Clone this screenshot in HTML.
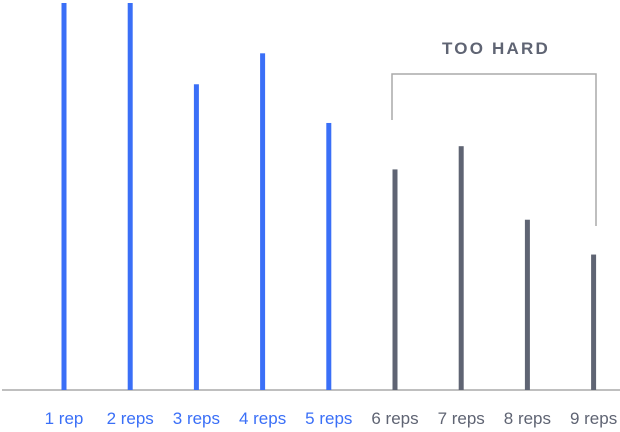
<!DOCTYPE html>
<html><head><meta charset="utf-8"><style>
body{margin:0;background:#fff;}
svg{display:block;font-family:"Liberation Sans",sans-serif;}
</style></head><body>
<svg id="c" width="620" height="432">
<line x1="2" y1="390" x2="620" y2="390" stroke="#aaaaaa" stroke-width="1.5"/>
<path d="M392 120 V74 H596 V226" fill="none" stroke="#aaaaaa" stroke-width="1.5"/>
<text x="496" y="54" text-anchor="middle" font-size="17" font-weight="bold" letter-spacing="2.2" fill="#5f6473">TOO HARD</text>
</svg>
<script>
const categories=["1 rep","2 reps","3 reps","4 reps","5 reps","6 reps","7 reps","8 reps","9 reps"];
const values=[100,100,79,87,69,57,63,44,35];
const hard=[false,false,false,false,false,true,true,true,true];
const svg=document.getElementById('c');
const NS='http://www.w3.org/2000/svg';
const x=i=>64+i*66.2;
const y=v=>390-v*3.87;
categories.forEach((c,i)=>{
  const col=hard[i]?'#5f6473':'#3a6ff7';
  const r=document.createElementNS(NS,'rect');
  r.setAttribute('x',x(i)-2.5);r.setAttribute('width',5);
  r.setAttribute('y',y(values[i]));r.setAttribute('height',390-y(values[i]));
  r.setAttribute('fill',col);
  
  
  svg.appendChild(r);
  const t=document.createElementNS(NS,'text');
  t.setAttribute('x',x(i));t.setAttribute('y',424);
  t.setAttribute('text-anchor','middle');t.setAttribute('font-size','17');
  t.setAttribute('fill',col);
  t.textContent=c;
  
  
  svg.appendChild(t);
});
</script>
</body></html>
